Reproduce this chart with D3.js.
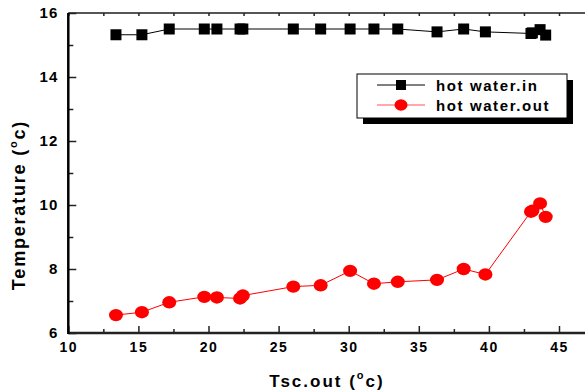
<!DOCTYPE html>
<html>
<head>
<meta charset="utf-8">
<script src="https://cdn.jsdelivr.net/npm/d3@7/dist/d3.min.js"></script>
<style>
  body { margin: 0; background: #fff; }
  text { font-family: Arial, "Liberation Sans", sans-serif; font-weight: bold; }
</style>
</head>
<body>
<svg id="chart"></svg>
<script>
// Tsc.out values (x) shared by both series
const tsc = [13.4, 15.25, 17.2, 19.7, 20.6, 22.25, 22.45, 26.05, 28.0, 30.1, 31.8, 33.5, 36.3, 38.2, 39.75, 43.0, 43.1, 43.65, 44.05];
const hotIn = [15.32, 15.32, 15.5, 15.5, 15.5, 15.5, 15.5, 15.5, 15.5, 15.5, 15.5, 15.5, 15.41, 15.5, 15.41, 15.36, 15.38, 15.48, 15.31];
const hotOut = [6.56, 6.65, 6.96, 7.13, 7.11, 7.08, 7.17, 7.45, 7.49, 7.94, 7.54, 7.6, 7.66, 8.0, 7.83, 9.79, 9.82, 10.05, 9.63];
const xTicks = [10, 15, 20, 25, 30, 35, 40, 45];
const xMinor = [12.5, 17.5, 22.5, 27.5, 32.5, 37.5, 42.5, 47.5];
const yTicks = [6, 8, 10, 12, 14, 16];
const yMinor = [7, 9, 11, 13, 15];
const seriesNames = ["hot water.in", "hot water.out"];

const width = 585, height = 392;
const svg = d3.select("#chart").attr("width", width).attr("height", height);

let x = d3.scaleLinear().domain([10, 45]).range([68.3, 559]);
let y = d3.scaleLinear().domain([6, 16]).range([333, 13]);

let inData = tsc.map((v, i) => ({x: v, y: hotIn[i]}));
let outData = tsc.map((v, i) => ({x: v, y: hotOut[i]}));

// frame (right side runs off the picture)
svg.append("line").attr("x1", x(10)).attr("x2", width + 5).attr("y1", y(16)).attr("y2", y(16))
    .attr("stroke", "#555").attr("stroke-width", 2);

// bottom axis
let gx = svg.append("g").attr("transform", "translate(0," + y(6) + ")");
gx.call(d3.axisBottom(x).tickValues(xTicks).tickSizeInner(-7).tickSizeOuter(0).tickPadding(9).tickFormat(d3.format("d")));
gx.append("g").call(d3.axisBottom(x).tickValues(xMinor).tickSizeInner(-4).tickSizeOuter(0).tickFormat(""));
gx.selectAll(".domain").remove();
gx.selectAll("text").attr("font-size", 14).attr("fill", "#000").attr("letter-spacing", 1.5);
gx.selectAll("line").attr("stroke", "#222").attr("stroke-width", 1.5);

// top axis ticks
let gt = svg.append("g").attr("transform", "translate(0," + y(16) + ")");
gt.call(d3.axisTop(x).tickValues(xTicks.concat(xMinor)).tickSizeInner(-3).tickSizeOuter(0).tickFormat(""));
gt.selectAll(".domain").remove();
gt.selectAll("line").attr("stroke", "#222").attr("stroke-width", 1.5);

// left axis
let gy = svg.append("g").attr("transform", "translate(" + x(10) + ",0)");
gy.call(d3.axisLeft(y).tickValues(yTicks).tickSizeInner(-8).tickSizeOuter(0).tickPadding(10).tickFormat(d3.format("d")));
gy.append("g").call(d3.axisLeft(y).tickValues(yMinor).tickSizeInner(-5).tickSizeOuter(0).tickFormat(""));
gy.selectAll(".domain").remove();
gy.selectAll("text").attr("font-size", 15).attr("fill", "#000").attr("letter-spacing", 1);
gy.selectAll("line").attr("stroke", "#222").attr("stroke-width", 1.5);

svg.append("line").attr("x1", x(10)).attr("x2", width + 5).attr("y1", y(6)).attr("y2", y(6))
    .attr("stroke", "#222").attr("stroke-width", 2.5);
svg.append("line").attr("x1", x(10)).attr("x2", x(10)).attr("y1", y(16)).attr("y2", y(6) + 1)
    .attr("stroke", "#000").attr("stroke-width", 2.5);

// axis titles
let xt = svg.append("text").attr("x", 327).attr("y", 387).attr("text-anchor", "middle")
    .attr("font-size", 17).attr("letter-spacing", 2).attr("fill", "#000");
xt.append("tspan").text("Tsc.out (");
xt.append("tspan").attr("dy", -8).attr("font-size", 11).text("o");
xt.append("tspan").attr("dy", 8).text("c)");

let yt = svg.append("text").attr("transform", "translate(25,205) rotate(-90)").attr("text-anchor", "middle")
    .attr("font-size", 18).attr("letter-spacing", 1.8).attr("fill", "#000");
yt.append("tspan").text("Temperature (");
yt.append("tspan").attr("dy", -8).attr("font-size", 11).text("o");
yt.append("tspan").attr("dy", 8).text("c)");

let line = d3.line().x(d => x(d.x)).y(d => y(d.y));

// hot water.in
svg.append("path").datum(inData).attr("fill", "none").attr("stroke", "#000").attr("stroke-width", 1).attr("d", line);
svg.selectAll(".sq").data(inData).enter().append("rect")
    .attr("x", d => x(d.x) - 5.5).attr("y", d => y(d.y) - 5.5)
    .attr("width", 11).attr("height", 11).attr("fill", "#000");

// hot water.out
svg.append("path").datum(outData).attr("fill", "none").attr("stroke", "#f00").attr("stroke-width", 1).attr("d", line);
svg.selectAll(".dot").data(outData).enter().append("ellipse")
    .attr("cx", d => x(d.x)).attr("cy", d => y(d.y))
    .attr("rx", 7).attr("ry", 6.2).attr("fill", "#f00");

// legend
let lg = svg.append("g");
lg.append("rect").attr("x", 363).attr("y", 80).attr("width", 210).attr("height", 44).attr("fill", "#000");
lg.append("rect").attr("x", 357).attr("y", 74).attr("width", 210).attr("height", 44)
    .attr("fill", "#fff").attr("stroke", "#000").attr("stroke-width", 1);
let colors = ["#000", "#f00"];
seriesNames.forEach((name, i) => {
    let ly = 85 + i * 20;
    lg.append("line").attr("x1", 377).attr("x2", 425).attr("y1", ly).attr("y2", ly)
        .attr("stroke", i ? "#ff5050" : "#000").attr("stroke-width", 1);
    if (i == 0) {
        lg.append("rect").attr("x", 396).attr("y", ly - 5).attr("width", 10).attr("height", 10).attr("fill", colors[i]);
    } else {
        lg.append("ellipse").attr("cx", 401).attr("cy", ly).attr("rx", 6.5).attr("ry", 5.8).attr("fill", colors[i]);
    }
    lg.append("text").attr("x", 436).attr("y", ly + 5.5).attr("font-size", 15).attr("letter-spacing", 1.6)
        .attr("fill", "#000").text(name);
});
</script>
</body>
</html>
